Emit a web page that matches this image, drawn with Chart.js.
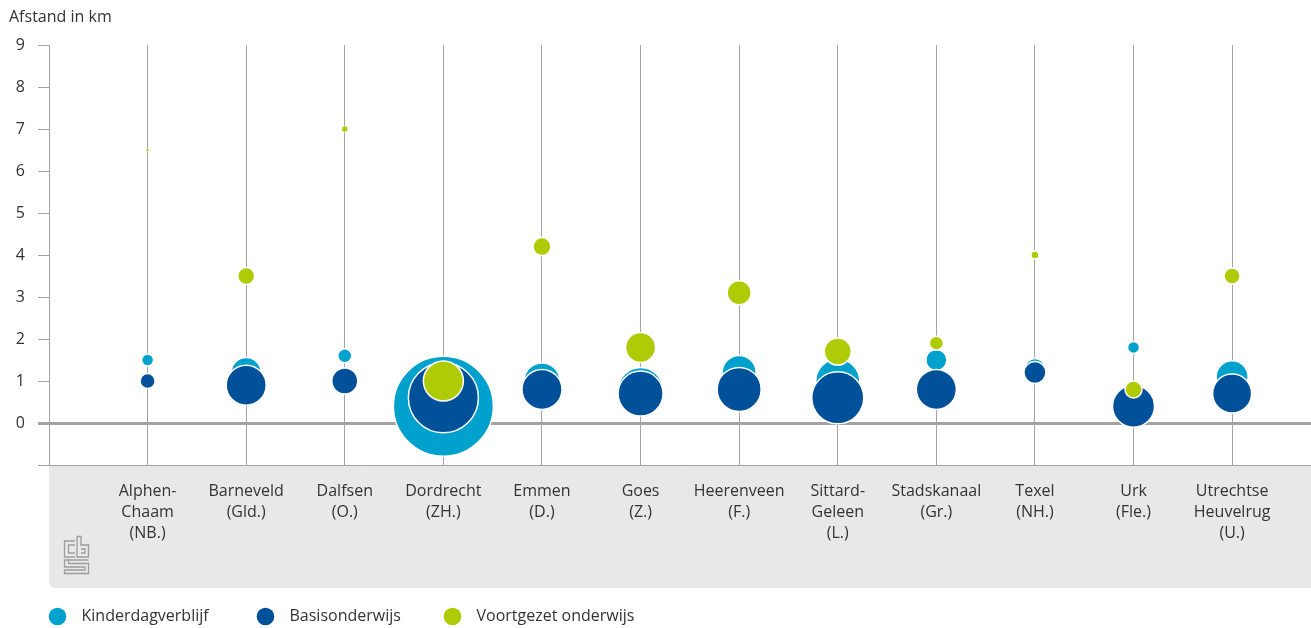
<!DOCTYPE html>
<html>
<head>
<meta charset="utf-8">
<script src="https://cdn.jsdelivr.net/npm/chart.js@4/dist/chart.umd.min.js"></script>
<style>
  html, body { margin: 0; padding: 0; background: #fff; }
  #wrap { width: 1311px; height: 628px; position: relative; }
</style>
</head>
<body>
<div id="wrap"><canvas id="c"></canvas></div>
<script>
const categories = [
  ['Alphen-', 'Chaam', '(NB.)'],
  ['Barneveld', '(Gld.)'],
  ['Dalfsen', '(O.)'],
  ['Dordrecht', '(ZH.)'],
  ['Emmen', '(D.)'],
  ['Goes', '(Z.)'],
  ['Heerenveen', '(F.)'],
  ['Sittard-', 'Geleen', '(L.)'],
  ['Stadskanaal', '(Gr.)'],
  ['Texel', '(NH.)'],
  ['Urk', '(Fle.)'],
  ['Utrechtse', 'Heuvelrug', '(U.)']
];
const seriesNames = ['Kinderdagverblijf', 'Basisonderwijs', 'Voortgezet onderwijs'];
const yTickValues = [0, 1, 2, 3, 4, 5, 6, 7, 8, 9];

const kinderdagKm   = [1.5, 1.2, 1.6, 0.4, 1.0, 0.8, 1.2, 1.0, 1.5, 1.3, 1.8, 1.1];
const kinderdagSize = [6, 15, 7, 50, 18, 22, 17, 22, 10.5, 10, 6, 16];
const basisKm       = [1.0, 0.9, 1.0, 0.6, 0.8, 0.7, 0.8, 0.6, 0.8, 1.2, 0.4, 0.7];
const basisSize     = [7.5, 20, 13, 35, 20, 22.5, 22, 26, 20, 11, 21, 19.5];
const voortgezetKm  = [6.5, 3.5, 7.0, 1.0, 4.2, 1.8, 3.1, 1.7, 1.9, 4.0, 0.8, 3.5];
const voortgezetSize= [1.5, 8.5, 3, 20, 9, 15, 12, 13.5, 7, 4, 8.5, 8];

const colors = ['#00a1cd', '#00509a', '#afcb05'];
const gridGray = '#a3a3a3';

function points(km, size) {
  return km.map((v, i) => ({ x: i + 1, y: v, r: size[i] }));
}

Chart.defaults.font.family = "'Open Sans', 'Noto Sans', sans-serif";
Chart.defaults.font.size = 16;
Chart.defaults.color = '#333';

const greyPanel = {
  id: 'greyPanel',
  beforeDraw(chart) {
    const { ctx, chartArea } = chart;
    const xs = chart.scales.x;
    const l = chartArea.left, t = xs.top, r = chart.width, b = xs.bottom;
    ctx.save();
    ctx.fillStyle = '#e8e8e8';
    ctx.beginPath();
    ctx.roundRect(l, t, r - l, b - t, [0, 0, 0, 6]);
    ctx.fill();
    // cbs logo (decoration)
    ctx.strokeStyle = '#9d9d9d';
    ctx.lineWidth = 1.3;
    const ox = l + 15, oy = b - 52;
    const seg = (pts) => { ctx.beginPath(); pts.forEach((p, i) => i ? ctx.lineTo(ox + p[0], oy + p[1]) : ctx.moveTo(ox + p[0], oy + p[1])); ctx.stroke(); };
    seg([[11, 5], [0.5, 5], [0.5, 21], [11, 21]]);
    seg([[11, 9], [4.5, 9], [4.5, 17], [11, 17]]);
    seg([[13, 0.5], [13, 21], [24.5, 21], [24.5, 9], [17, 9], [17, 0.5], [13, 0.5]]);
    seg([[17, 13], [21, 13], [21, 17], [17, 17]]);
    seg([[24.5, 24], [0.5, 24], [0.5, 31], [21, 31], [21, 34], [0.5, 34], [0.5, 37.5], [24.5, 37.5], [24.5, 27.5], [4.5, 27.5], [4.5, 24]]);
    ctx.restore();
  }
};

const bottomLegend = {
  id: 'bottomLegend',
  afterDraw(chart) {
    const { ctx } = chart;
    const starts = [48.5, 256.5, 443.5];
    ctx.save();
    ctx.font = "16px 'Open Sans', 'Noto Sans', sans-serif";
    ctx.textBaseline = 'middle';
    ctx.textAlign = 'left';
    const y = 616.5;
    chart.data.datasets.forEach((ds, i) => {
      const x = starts[i];
      ctx.fillStyle = ds.backgroundColor;
      ctx.beginPath();
      ctx.ellipse(x + 9, y, 8.8, 8.8, 0, 0, Math.PI * 2);
      ctx.fill();
      ctx.fillStyle = '#333';
      ctx.fillText(ds.label, x + 33, y);
    });
    ctx.restore();
  }
};

const isCat = (v) => Number.isInteger(v) && v >= 1 && v <= categories.length;

new Chart(document.getElementById('c'), {
  type: 'bubble',
  data: {
    datasets: [
      { label: seriesNames[0], data: points(kinderdagKm, kinderdagSize), backgroundColor: colors[0], borderColor: '#fff', borderWidth: 1.5, order: 3 },
      { label: seriesNames[1], data: points(basisKm, basisSize), backgroundColor: colors[1], borderColor: '#fff', borderWidth: 1.5, order: 2 },
      { label: seriesNames[2], data: points(voortgezetKm, voortgezetSize), backgroundColor: colors[2], borderColor: '#fff',
        borderWidth: (c) => (c.raw && c.raw.r < 4 ? 0.5 : 1.5), order: 1 }
    ]
  },
  options: {
    responsive: true,
    maintainAspectRatio: false,
    animation: false,
    events: [],
    layout: { autoPadding: false, padding: { left: 9, right: 0, top: 0, bottom: 40 } },
    plugins: {
      legend: { display: false },
      tooltip: { enabled: false },
      title: {
        display: true,
        text: 'Afstand in km',
        align: 'start',
        color: '#333',
        font: { size: 16, weight: 'normal', lineHeight: 1.2 },
        padding: { top: 8, bottom: 17.8 }
      }
    },
    scales: {
      x: {
        type: 'linear',
        min: 0,
        max: 12.8,
        ticks: {
          stepSize: 1,
          autoSkip: false,
          maxRotation: 0,
          minRotation: 0,
          padding: 16,
          color: '#333',
          font: { size: 16, lineHeight: 1.3 },
          callback: (v) => (isCat(v) ? categories[v - 1] : '')
        },
        grid: {
          color: (c) => (c.tick && isCat(c.tick.value) ? gridGray : 'rgba(0,0,0,0)'),
          lineWidth: 1,
          drawTicks: false
        },
        border: { display: false },
        afterFit: (s) => { s.height = 123; s.paddingLeft = 0; s.paddingRight = 0; }
      },
      y: {
        min: -1,
        max: 9,
        afterBuildTicks: (s) => { s.ticks = [-1].concat(yTickValues).map((v) => ({ value: v })); },
        ticks: {
          padding: 13,
          color: '#333',
          font: { size: 16 },
          callback: (v) => (v < 0 ? '' : v)
        },
        grid: {
          color: (c) => (c.tick && (c.tick.value === 0 || c.tick.value === -1) ? gridGray : 'rgba(0,0,0,0)'),
          lineWidth: (c) => (c.tick && c.tick.value === 0 ? 3 : 1),
          tickColor: gridGray,
          tickLength: 11,
          tickWidth: (c) => (c.tick && c.tick.value === 0 ? 3 : 1)
        },
        border: { color: gridGray, width: 1 },
        afterFit: (s) => { s.width = 40; }
      }
    }
  },
  plugins: [greyPanel, bottomLegend]
});
</script>
</body>
</html>
